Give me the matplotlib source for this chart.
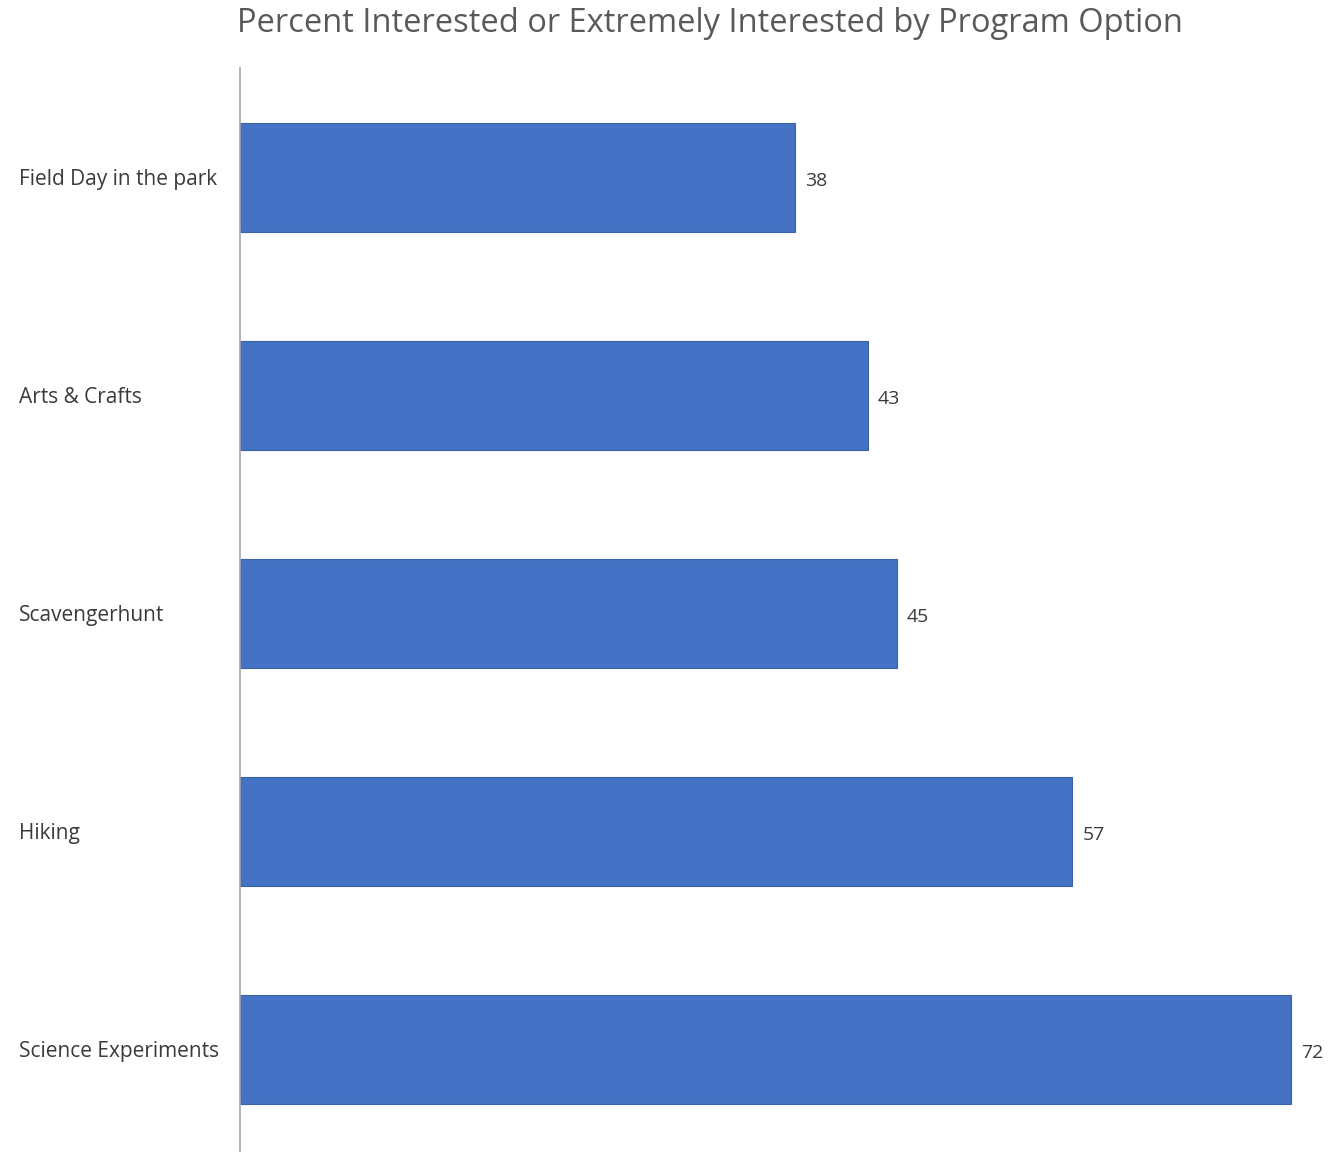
import matplotlib.pyplot as plt

programs = ["Field Day in the park", "Arts & Crafts", "Scavengerhunt",
            "Hiking", "Science Experiments"]
pct = [38, 43, 45, 57, 72]

plt.rcParams['font.family'] = ['Open Sans', 'DejaVu Sans']

fig = plt.figure(figsize=(13.37, 11.52), dpi=100)
ax = fig.add_axes([240/1337, -6/1152, 1090/1337, 1090/1152])

ypos = list(range(len(programs)))
bars = ax.barh(ypos, pct, height=0.5, color="#4472C4", edgecolor="#3b63ad", linewidth=0.8)
for b, v in zip(bars, pct):
    ax.text(b.get_width() + 0.7, b.get_y() + b.get_height()/2 + 0.01, str(v),
            va="center_baseline", ha="left", fontsize=14, color="#3a3a3a")

ax.set_ylim(4.5, -0.5)
ax.set_xlim(0, 74.67)
ax.set_yticks(ypos)
ax.set_yticklabels(programs, ha="left", fontsize=15, color="#3a3a3a",
                   va="center_baseline")
ax.tick_params(axis="y", length=0, pad=159)
ax.set_xticks([])
for s in ["top", "right", "bottom"]:
    ax.spines[s].set_visible(False)
ax.spines["left"].set_color("#a6a6a6")
ax.spines["left"].set_linewidth(1.2)

fig.text(710/1337, 1 - 24/1152, "Percent Interested or Extremely Interested by Program Option",
         ha="center", va="center", fontsize=23.5, color="#595959")

fig.savefig("out.png", dpi=100)
